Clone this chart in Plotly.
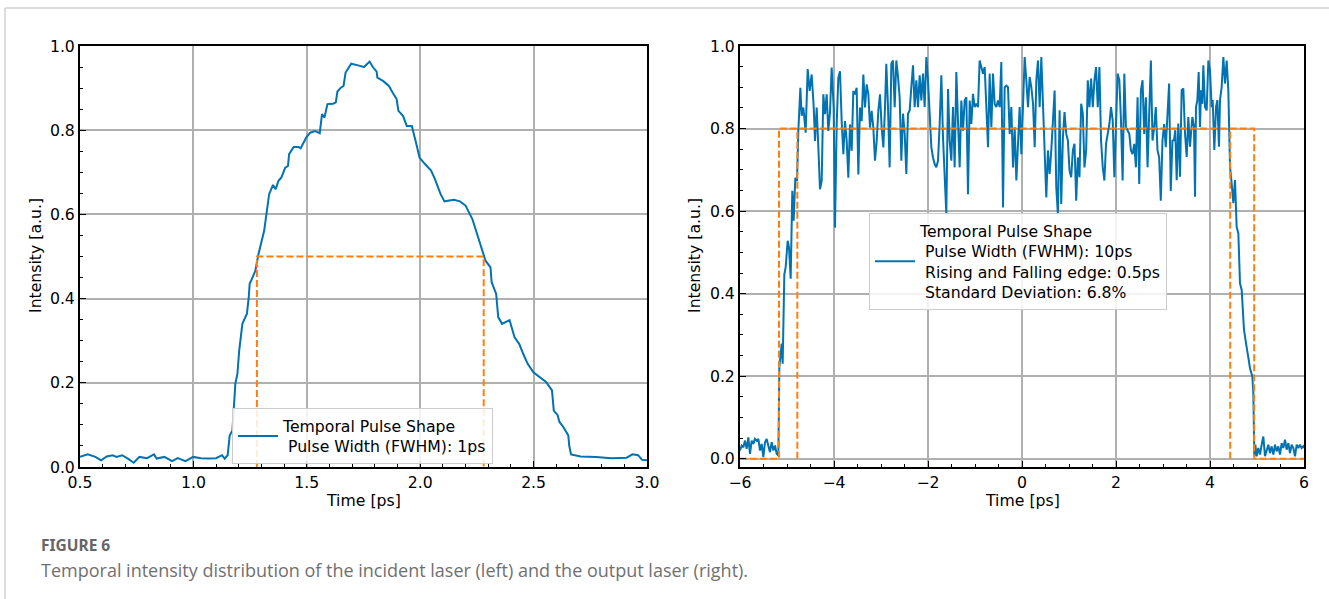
import plotly.graph_objects as go

# ---------------- data ----------------
# Left panel: incident laser temporal profile
left_time = [0.500, 0.534, 0.568, 0.593, 0.618, 0.644, 0.661, 0.686, 0.711, 0.737, 0.762, 0.796, 0.826, 0.838,
             0.872, 0.906, 0.931, 0.965, 0.999, 1.033, 1.067, 1.100, 1.126, 1.138, 1.151,
             1.160, 1.172, 1.177, 1.185, 1.194, 1.202, 1.216, 1.227, 1.236, 1.244, 1.248, 1.258, 1.273, 1.287,
             1.300, 1.312, 1.320, 1.334, 1.351, 1.363, 1.375, 1.388, 1.405, 1.417, 1.422, 1.442, 1.464, 1.473,
             1.498, 1.515, 1.537, 1.557, 1.567, 1.578, 1.591, 1.616, 1.628, 1.635, 1.650, 1.662, 1.671, 1.696,
             1.726, 1.752, 1.777, 1.791, 1.808, 1.811, 1.836, 1.862, 1.879, 1.896, 1.904, 1.924, 1.941, 1.963,
             1.983, 1.997, 2.022, 2.048, 2.065, 2.090, 2.107, 2.149, 2.175, 2.200, 2.230, 2.251, 2.268, 2.288,
             2.310, 2.315, 2.335, 2.344, 2.361, 2.394, 2.416, 2.437, 2.454, 2.474, 2.499, 2.530, 2.555, 2.581,
             2.589, 2.606, 2.614, 2.631, 2.653, 2.657, 2.665, 2.707, 2.775, 2.843, 2.910, 2.936, 2.961, 2.978, 3.000]
left_intensity = [0.024, 0.030, 0.024, 0.016, 0.025, 0.028, 0.024, 0.028, 0.020, 0.010, 0.024, 0.021, 0.030, 0.020,
                  0.024, 0.014, 0.021, 0.014, 0.024, 0.021, 0.020, 0.021, 0.028, 0.020, 0.028,
                  0.075, 0.087, 0.142, 0.198, 0.221, 0.277, 0.340, 0.352, 0.364, 0.403, 0.435, 0.447, 0.466, 0.506,
                  0.538, 0.561, 0.593, 0.648, 0.670, 0.660, 0.680, 0.688, 0.711, 0.715, 0.743, 0.760, 0.760, 0.757,
                  0.783, 0.794, 0.798, 0.793, 0.838, 0.830, 0.862, 0.863, 0.866, 0.892, 0.901, 0.905, 0.937, 0.958,
                  0.954, 0.950, 0.963, 0.950, 0.939, 0.925, 0.917, 0.905, 0.889, 0.874, 0.846, 0.834, 0.810, 0.810,
                  0.767, 0.735, 0.719, 0.704, 0.684, 0.648, 0.631, 0.635, 0.631, 0.621, 0.589, 0.553, 0.522, 0.490,
                  0.474, 0.439, 0.411, 0.356, 0.340, 0.349, 0.308, 0.292, 0.269, 0.245, 0.225, 0.213, 0.202, 0.182,
                  0.134, 0.123, 0.107, 0.095, 0.075, 0.051, 0.030, 0.025, 0.024, 0.021, 0.022, 0.030, 0.028, 0.017, 0.016]
left_fwhm_time = [1.28, 1.28, 2.28, 2.28]
left_fwhm_level = [0.0, 0.5, 0.5, 0.0]

# Right panel: output laser temporal profile
right_time = [
    -6.000, -5.964, -5.929, -5.894, -5.858, -5.823, -5.787, -5.752, -5.716, -5.681, -5.645, -5.610, -5.574, -5.539,
    -5.504, -5.468, -5.433, -5.397, -5.362, -5.326, -5.291, -5.255, -5.220, -5.184,
    -5.163, -5.113, -5.092, -5.057, -5.028, -4.986, -4.957, -4.922, -4.887, -4.858, -4.823, -4.787, -4.759, -4.716,
    -4.688,
    -4.652, -4.603, -4.560, -4.518, -4.475, -4.433, -4.404, -4.369, -4.333, -4.298, -4.262, -4.227, -4.192, -4.156,
    -4.121, -4.085, -4.050, -4.007, -3.979, -3.943, -3.908, -3.872, -3.837, -3.801, -3.766, -3.730, -3.695, -3.660,
    -3.624, -3.589, -3.553, -3.518, -3.482, -3.447, -3.411, -3.376, -3.340, -3.305, -3.269, -3.234, -3.199, -3.163,
    -3.128, -3.092, -3.057, -3.021, -2.986, -2.950, -2.915,
    -2.887, -2.851, -2.816, -2.780, -2.745, -2.709, -2.674, -2.638, -2.603, -2.567, -2.532, -2.496, -2.461, -2.426,
    -2.390, -2.355, -2.319, -2.284, -2.248, -2.213, -2.177, -2.142, -2.106, -2.071, -2.035, -2.000, -1.965, -1.929,
    -1.894, -1.858, -1.823, -1.787, -1.752, -1.716, -1.681, -1.645, -1.610, -1.574, -1.539, -1.504, -1.468, -1.433,
    -1.397, -1.362, -1.326, -1.291, -1.255, -1.220, -1.184, -1.149, -1.113, -1.078, -1.043, -1.007, -0.972, -0.936,
    -0.901, -0.865, -0.830, -0.794, -0.759, -0.723, -0.688, -0.652, -0.617, -0.582, -0.546, -0.511, -0.475, -0.440,
    -0.404, -0.369, -0.333, -0.298, -0.262, -0.227, -0.191, -0.156, -0.120, -0.085, -0.050, -0.014, 0.021, 0.057,
    0.092, 0.128, 0.163,
    0.199, 0.235, 0.270, 0.305, 0.340, 0.376, 0.411, 0.446, 0.482, 0.517, 0.552, 0.588, 0.623, 0.658, 0.694, 0.729,
    0.764, 0.800, 0.835, 0.870, 0.905, 0.941, 0.976, 1.011, 1.047, 1.082, 1.117, 1.153, 1.188, 1.223, 1.259, 1.294,
    1.329, 1.365, 1.400, 1.435, 1.470, 1.506, 1.541, 1.576, 1.612, 1.647, 1.682, 1.718, 1.753, 1.788, 1.824, 1.859,
    1.894, 1.930, 1.965, 2.000, 2.035, 2.071, 2.106, 2.141, 2.177, 2.212, 2.247, 2.283, 2.318, 2.353, 2.388, 2.424,
    2.459, 2.494, 2.530, 2.565, 2.600, 2.636, 2.671, 2.706, 2.742, 2.777, 2.812, 2.847, 2.883, 2.918, 2.953, 2.989,
    3.024, 3.059, 3.095, 3.130, 3.165, 3.201,
    3.234, 3.262, 3.291, 3.326, 3.362, 3.397, 3.433, 3.468, 3.504, 3.539, 3.574, 3.596, 3.624, 3.660, 3.681, 3.702,
    3.731, 3.759, 3.787, 3.809, 3.837, 3.858, 3.894, 3.929, 3.965, 4.000, 4.035, 4.057, 4.092, 4.128, 4.156, 4.191,
    4.213, 4.248, 4.284, 4.319, 4.355, 4.390, 4.411,
    4.426, 4.461, 4.496, 4.532, 4.567, 4.603, 4.638, 4.674, 4.723, 4.766, 4.794, 4.823, 4.851, 4.901, 4.922, 4.943,
    4.965, 4.993, 5.028, 5.064, 5.099, 5.135, 5.170, 5.206, 5.241, 5.277, 5.312, 5.348, 5.383, 5.418, 5.454, 5.489,
    5.525, 5.560, 5.596, 5.631, 5.667, 5.702, 5.738, 5.773, 5.809, 5.844, 5.879, 5.915, 5.950, 5.986, 6.000]
right_intensity = [
    0.020, 0.032, 0.028, 0.044, 0.024, 0.052, 0.012, 0.044, 0.036, 0.048, 0.044, 0.048, 0.020, 0.036,
    0.004, 0.040, 0.048, 0.032, 0.016, 0.040, 0.020, 0.032, 0.012, 0.008,
    0.222, 0.279, 0.230, 0.447, 0.464, 0.528, 0.512, 0.436, 0.649, 0.577, 0.681, 0.673, 0.794, 0.899,
    0.831,
    0.851, 0.790, 0.944, 0.891, 0.931, 0.855, 0.770, 0.851, 0.754, 0.653, 0.673, 0.883, 0.835, 0.883,
    0.794, 0.839, 0.948, 0.851, 0.560, 0.810, 0.923, 0.939, 0.818, 0.738, 0.818, 0.770, 0.681, 0.810,
    0.746, 0.891, 0.883, 0.899, 0.689, 0.851, 0.818, 0.931, 0.851, 0.907, 0.883, 0.802, 0.843, 0.802,
    0.722, 0.770, 0.843, 0.883, 0.802, 0.754, 0.851,
    0.957, 0.852, 0.706, 0.957, 0.965, 0.852, 0.965, 0.925, 0.876, 0.722, 0.836, 0.787, 0.690, 0.836,
    0.844, 0.900, 0.953, 0.852, 0.917, 0.852, 0.929, 0.868, 0.933, 0.852, 0.973, 0.917, 0.828, 0.755,
    0.730, 0.714, 0.706, 0.722, 0.811, 0.929, 0.779, 0.666, 0.593, 0.896, 0.771, 0.722, 0.852, 0.706,
    0.937, 0.819, 0.706, 0.868, 0.795, 0.868, 0.876, 0.641, 0.868, 0.811, 0.884, 0.852, 0.860, 0.852,
    0.965, 0.949, 0.933, 0.949, 0.852, 0.755, 0.933, 0.803, 0.933, 0.860, 0.852, 0.868, 0.852, 0.961,
    0.609, 0.900, 0.904, 0.900, 0.787, 0.852, 0.706, 0.803, 0.674, 0.771, 0.852, 0.738, 0.844, 0.973,
    0.917, 0.852, 0.925,
    0.900, 0.860, 0.755, 0.917, 0.965, 0.852, 0.973, 0.860, 0.755, 0.633, 0.747, 0.690, 0.747, 0.811, 0.892, 0.657,
    0.593, 0.844, 0.617, 0.779, 0.840, 0.787, 0.771, 0.698, 0.682, 0.747, 0.763, 0.625, 0.730, 0.682, 0.860, 0.836,
    0.706, 0.747, 0.917, 0.852, 0.921, 0.852, 0.917, 0.949, 0.852, 0.949, 0.771, 0.706, 0.674, 0.763, 0.787, 0.811,
    0.852, 0.819, 0.682, 0.811, 0.933, 0.917, 0.819, 0.674, 0.933, 0.803, 0.795, 0.787, 0.747, 0.738, 0.763, 0.706,
    0.876, 0.666, 0.892, 0.917, 0.787, 0.876, 0.706, 0.819, 0.965, 0.771, 0.803, 0.852, 0.747, 0.730, 0.625, 0.771,
    0.811, 0.755, 0.852, 0.909, 0.649, 0.771,
    0.772, 0.796, 0.675, 0.812, 0.683, 0.893, 0.897, 0.788, 0.731, 0.828, 0.756, 0.780, 0.828, 0.804, 0.635, 0.852,
    0.869, 0.937, 0.804, 0.893, 0.860, 0.953, 0.852, 0.844, 0.965, 0.941, 0.852, 0.869, 0.748, 0.852, 0.869, 0.756,
    0.869, 0.901, 0.973, 0.909, 0.965, 0.893, 0.800,
    0.707, 0.667, 0.619, 0.675, 0.562, 0.546, 0.425, 0.409, 0.313, 0.280, 0.264, 0.240, 0.219, 0.199, 0.159, 0.006,
    0.034, 0.006, 0.026, 0.010, 0.034, 0.054, 0.006, 0.022, 0.034, 0.014, 0.030, 0.010, 0.034, 0.018, 0.030, 0.010,
    0.038, 0.026, 0.046, 0.022, 0.038, 0.014, 0.034, 0.026, 0.006, 0.034, 0.026, 0.034, 0.026, 0.030, 0.026]
right_ideal_time = [-6.0, -5.17, -5.17, 4.94, 4.94, 6.0]
right_ideal_level = [0.0, 0.0, 0.8, 0.8, 0.0, 0.0]
right_edge_time = [-4.78, -4.78, None, 4.43, 4.43]
right_edge_level = [0.0, 0.8, None, 0.0, 0.8]

left_label = "Temporal Pulse Shape<br>&nbsp;Pulse Width (FWHM): 1ps"
right_label = ("Temporal Pulse Shape<br>&nbsp;Pulse Width (FWHM): 10ps<br>"
               "&nbsp;Rising and Falling edge: 0.5ps<br>&nbsp;Standard Deviation: 6.8%")

BLUE = "#0173b2"
ORANGE = "#ff7f0e"
FONT = "DejaVu Sans"
FS = 15.7
W, H = 1329, 599

fig = go.Figure()
fig.add_trace(go.Scatter(x=left_time, y=left_intensity, mode="lines", name=left_label,
                         line=dict(color=BLUE, width=2), xaxis="x", yaxis="y", legend="legend"))
fig.add_trace(go.Scatter(x=left_fwhm_time, y=left_fwhm_level, mode="lines", showlegend=False,
                         line=dict(color=ORANGE, width=2, dash="7px,3px"), xaxis="x", yaxis="y"))
fig.add_trace(go.Scatter(x=right_time, y=right_intensity, mode="lines", name=right_label,
                         line=dict(color=BLUE, width=2), xaxis="x2", yaxis="y2", legend="legend2"))
fig.add_trace(go.Scatter(x=right_ideal_time, y=right_ideal_level, mode="lines", showlegend=False,
                         line=dict(color=ORANGE, width=2, dash="7px,3px"), xaxis="x2", yaxis="y2"))
fig.add_trace(go.Scatter(x=right_edge_time, y=right_edge_level, mode="lines", showlegend=False,
                         line=dict(color=ORANGE, width=2, dash="7px,3px"), xaxis="x2", yaxis="y2"))

def px_x(p):
    return p / W

def px_y(p):
    return 1 - p / H

axis_common = dict(showline=True, mirror=True, linecolor="black", linewidth=2,
                   showgrid=True, gridcolor="#b0b0b0", gridwidth=1.5,
                   ticks="inside", ticklen=6, tickwidth=1.2, tickcolor="black",
                   tickfont=dict(family=FONT, size=FS, color="black"),
                   zeroline=False, automargin=False)

def minor(d):
    return dict(ticks="inside", ticklen=3, tickwidth=1, tickcolor="black", dtick=d, showgrid=False)

legend_common = dict(xanchor="left", yanchor="top", bgcolor="rgba(255,255,255,0.85)",
                     bordercolor="#cccccc", borderwidth=1, itemwidth=40,
                     font=dict(family=FONT, size=FS, color="black"), valign="middle")

ydom = [px_y(467), px_y(46)]
fig.update_layout(
    template="plotly",
    width=W, height=H,
    margin=dict(l=0, r=0, t=0, b=0, pad=0, autoexpand=False),
    paper_bgcolor="white", plot_bgcolor="white",
    showlegend=True,
    xaxis=dict(axis_common, domain=[px_x(80), px_x(647)], range=[0.5, 3.0], dtick=0.5, tick0=0.5,
               tickformat=".1f", minor=minor(0.1), anchor="y"),
    yaxis=dict(axis_common, domain=ydom, range=[0, 1.0], dtick=0.2, tickformat=".1f",
               minor=minor(0.05), anchor="x"),
    xaxis2=dict(axis_common, domain=[px_x(740), px_x(1304)], range=[-6, 6], dtick=2,
                minor=minor(0.5), anchor="y2"),
    yaxis2=dict(axis_common, domain=ydom, range=[-0.02, 1.0], dtick=0.2, tickformat=".1f",
                minor=minor(0.05), anchor="x2"),
    legend=dict(legend_common, x=px_x(232), y=px_y(408)),
    legend2=dict(legend_common, x=px_x(869), y=px_y(213)),
)

annotations = [
    dict(text="Time [ps]", x=px_x(363), y=px_y(500), xref="paper", yref="paper", showarrow=False,
         font=dict(family=FONT, size=FS, color="black"), xanchor="center", yanchor="middle"),
    dict(text="Time [ps]", x=px_x(1022), y=px_y(500), xref="paper", yref="paper", showarrow=False,
         font=dict(family=FONT, size=FS, color="black"), xanchor="center", yanchor="middle"),
    dict(text="Intensity [a.u.]", x=px_x(35), y=px_y(256), xref="paper", yref="paper", showarrow=False,
         textangle=-90, font=dict(family=FONT, size=FS, color="black"), xanchor="center", yanchor="middle"),
    dict(text="Intensity [a.u.]", x=px_x(694), y=px_y(256), xref="paper", yref="paper", showarrow=False,
         textangle=-90, font=dict(family=FONT, size=FS, color="black"), xanchor="center", yanchor="middle"),
    dict(text="<b>FIGURE 6</b>", x=px_x(39), y=px_y(545), xref="paper", yref="paper", showarrow=False,
         font=dict(family="Noto Sans", size=15.5, color="#666666"), xanchor="left", yanchor="middle"),
    dict(text="Temporal intensity distribution of the incident laser (left) and the output laser (right).",
         x=px_x(39), y=px_y(570), xref="paper", yref="paper", showarrow=False,
         font=dict(family="Open Sans", size=18, color="#707070"), xanchor="left", yanchor="middle"),
]
fig.update_layout(annotations=annotations)

fig.update_layout(shapes=[
    dict(type="line", xref="paper", yref="paper", x0=px_x(5), x1=1, y0=px_y(8), y1=px_y(8),
         line=dict(color="#d0d0d0", width=1.5)),
    dict(type="line", xref="paper", yref="paper", x0=px_x(5), x1=px_x(5), y0=px_y(8), y1=0,
         line=dict(color="#d0d0d0", width=1.5)),
])

fig.write_html("out.html", config={"displayModeBar": False},
               post_script="document.body.style.margin='0';document.body.style.overflow='hidden';")
